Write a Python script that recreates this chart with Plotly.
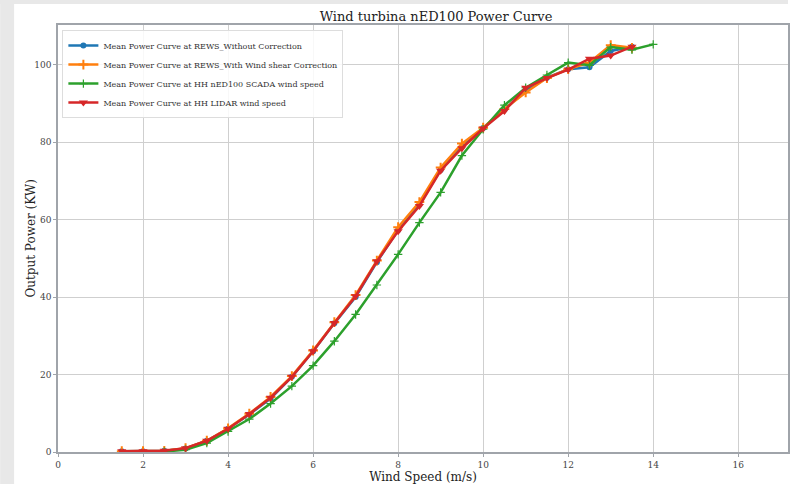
import plotly.graph_objects as go

wind_speed = [1.5, 2.0, 2.5, 3.0, 3.5, 4.0, 4.5, 5.0, 5.5, 6.0, 6.5, 7.0, 7.5, 8.0,
              8.5, 9.0, 9.5, 10.0, 10.5, 11.0, 11.5, 12.0, 12.5, 13.0, 13.5]
rews_no_corr = [0.2, 0.2, 0.3, 0.9, 2.9, 6.0, 9.7, 13.8, 19.4, 26.0, 33.2, 40.0, 49.0, 57.3,
                63.8, 72.8, 78.8, 83.6, 88.3, 93.2, 96.6, 98.8, 99.3, 103.5, 104.6]
rews_shear_corr = [0.2, 0.2, 0.3, 1.0, 2.9, 6.1, 9.9, 14.2, 19.6, 26.2, 33.5, 40.5, 49.4, 58.0,
                   64.5, 73.4, 79.6, 83.7, 88.5, 92.8, 96.5, 98.8, 100.5, 105.0, 104.3]
lidar_speed = [1.5, 2.0, 2.5, 3.0, 3.5, 4.0, 4.5, 5.0, 5.5, 6.0, 6.5, 7.0, 7.5, 8.0,
               8.5, 9.0, 9.5, 10.0, 10.5, 11.0, 11.5, 12.0, 12.5, 13.0, 13.5]
lidar_power = [0.2, 0.2, 0.3, 1.0, 2.9, 6.0, 9.8, 14.0, 19.4, 26.0, 33.3, 40.2, 49.2, 57.0,
               63.5, 72.6, 78.4, 83.5, 88.0, 94.0, 96.5, 98.7, 101.5, 102.3, 104.6]
scada_speed = [2.5, 3.0, 3.5, 4.0, 4.5, 5.0, 5.5, 6.0, 6.5, 7.0, 7.5, 8.0, 8.5, 9.0,
               9.5, 10.0, 10.5, 11.0, 11.5, 12.0, 12.5, 13.0, 13.5, 14.0]
scada_power = [0.1, 0.6, 2.3, 5.3, 8.5, 12.5, 17.0, 22.3, 28.6, 35.5, 43.1, 51.0, 59.2, 67.0,
               76.5, 83.3, 89.5, 94.0, 97.3, 100.5, 99.8, 104.5, 103.8, 105.2]

x_ticks = [0, 2, 4, 6, 8, 10, 12, 14, 16]
y_ticks = [0, 20, 40, 60, 80, 100]

names = ["Mean Power Curve at REWS_Without Correction",
         "Mean Power Curve at REWS_With Wind shear Correction",
         "Mean Power Curve at HH nED100 SCADA wind speed",
         "Mean Power Curve at HH LIDAR wind speed"]

fig = go.Figure()
fig.add_trace(go.Scatter(x=wind_speed, y=rews_no_corr, name=names[0], mode="lines+markers",
                         line=dict(color="#1f77b4", width=2.5),
                         marker=dict(symbol="circle", size=6, color="#1f77b4")))
fig.add_trace(go.Scatter(x=wind_speed, y=rews_shear_corr, name=names[1], mode="lines+markers",
                         line=dict(color="#ff7f0e", width=2.5),
                         marker=dict(symbol="cross-thin", size=7, color="#ff7f0e",
                                     line=dict(color="#ff7f0e", width=2))))
fig.add_trace(go.Scatter(x=scada_speed, y=scada_power, name=names[2], mode="lines+markers",
                         line=dict(color="#2ca02c", width=2.5),
                         marker=dict(symbol="cross-thin", size=6, color="#2ca02c",
                                     line=dict(color="#2ca02c", width=1.2))))
fig.add_trace(go.Scatter(x=lidar_speed, y=lidar_power, name=names[3], mode="lines+markers",
                         line=dict(color="#d62728", width=2.5),
                         marker=dict(symbol="triangle-down", size=8, color="#d62728")))

font_family = "DejaVu Serif"
fig.update_layout(
    width=790, height=484,
    margin=dict(l=58, r=0, t=25, b=32),
    paper_bgcolor="white", plot_bgcolor="white",
    font=dict(family=font_family, color="#333333", size=9),
    title=dict(text="Wind turbina nED100 Power Curve", x=(436) / 790, xanchor="center",
               y=1 - 16 / 484, yanchor="middle",
               font=dict(family=font_family, size=13, color="#222222")),
    showlegend=True,
    legend=dict(x=0.006, y=0.988, xanchor="left", yanchor="top",
                bgcolor="rgba(255,255,255,0.85)", bordercolor="#dddddd", borderwidth=1,
                font=dict(family=font_family, size=8, color="#333333"),
                tracegroupgap=0, itemwidth=30),
    xaxis=dict(range=[0, 17.17], tickvals=x_ticks, ticktext=[str(v) for v in x_ticks],
               showgrid=True, gridcolor="#cfcfcf", gridwidth=1,
               showline=True, linecolor="#a0a4aa", linewidth=1.5, mirror=True,
               ticks="outside", ticklen=3, tickcolor="#a0a4aa", zeroline=False,
               tickfont=dict(size=9, color="#444444"),
               title=dict(text="Wind Speed (m/s)", font=dict(family=font_family, size=12, color="#222222"),
                          standoff=5)),
    yaxis=dict(range=[0, 110.2], tickvals=y_ticks, ticktext=[str(v) for v in y_ticks],
               showgrid=True, gridcolor="#cfcfcf", gridwidth=1,
               showline=True, linecolor="#a0a4aa", linewidth=1.5, mirror=True,
               ticks="outside", ticklen=3, tickcolor="#a0a4aa", zeroline=False,
               tickfont=dict(size=9, color="#444444")),
)

# y-axis title placed as rotated text
fig.add_annotation(text="Output Power (KW)", xref="paper", yref="paper",
                   x=-28 / 732, y=0.5, xanchor="center", yanchor="middle",
                   textangle=-90, showarrow=False,
                   font=dict(family=font_family, size=12, color="#222222"))

# light gray page border strips (left and top)
fig.add_shape(type="rect", xref="paper", yref="paper", x0=-58 / 732, x1=-44 / 732,
              y0=-32 / 427, y1=1 + 25 / 427, fillcolor="#e8e8e8", line=dict(width=0), layer="below")
fig.add_shape(type="rect", xref="paper", yref="paper", x0=-58 / 732, x1=1.0,
              y0=1 + 21 / 427, y1=1 + 25 / 427, fillcolor="#e8e8e8", line=dict(width=0), layer="below")

fig.write_html("out.html")
